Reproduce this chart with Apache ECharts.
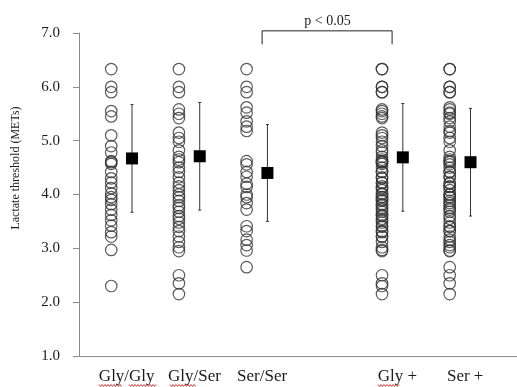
<!DOCTYPE html>
<html>
<head>
<meta charset="utf-8">
<script src="https://cdn.jsdelivr.net/npm/echarts@6/dist/echarts.min.js"></script>
<style>
html,body{margin:0;padding:0;background:#fff;}
#chart{width:517px;height:387px;}
</style>
</head>
<body>
<div id="chart"></div>
<script>
// ---- data ----
const categories = ['Gly/Gly', 'Gly/Ser', 'Ser/Ser', '', 'Gly +', 'Ser +'];
const groupPositions = [0, 1, 2, 4, 5];
const yTicks = [1, 2, 3, 4, 5, 6, 7];

const glyGly = [6.33, 6.0, 5.9, 5.55, 5.45, 5.1, 4.9, 4.78, 4.62, 4.6, 4.57, 4.42, 4.3, 4.22, 4.12, 4.02, 3.95, 3.9, 3.82, 3.72, 3.62, 3.52, 3.42, 3.3, 3.22, 2.97, 2.3];
const glySer = [6.33, 6.0, 5.9, 5.58, 5.5, 5.42, 5.15, 5.05, 4.98, 4.82, 4.7, 4.65, 4.6, 4.5, 4.42, 4.32, 4.22, 4.15, 4.08, 4.0, 3.95, 3.88, 3.8, 3.75, 3.68, 3.6, 3.55, 3.48, 3.4, 3.32, 3.22, 3.12, 3.02, 2.95, 2.5, 2.35, 2.15];
const serSer = [6.33, 6.0, 5.9, 5.62, 5.52, 5.36, 5.26, 5.18, 4.62, 4.56, 4.42, 4.33, 4.2, 4.14, 4.0, 3.95, 3.84, 3.72, 3.41, 3.32, 3.16, 3.06, 2.96, 2.65];
const glyPlus = [6.33, 6.33, 6.0, 6.0, 5.9, 5.9, 5.58, 5.55, 5.5, 5.45, 5.42, 5.15, 5.1, 5.05, 4.98, 4.9, 4.82, 4.78, 4.7, 4.65, 4.62, 4.6, 4.6, 4.57, 4.5, 4.42, 4.42, 4.32, 4.3, 4.22, 4.22, 4.15, 4.12, 4.08, 4.02, 4.0, 3.95, 3.95, 3.9, 3.88, 3.82, 3.8, 3.75, 3.72, 3.68, 3.62, 3.6, 3.55, 3.52, 3.48, 3.42, 3.4, 3.32, 3.3, 3.22, 3.22, 3.12, 3.02, 2.97, 2.95, 2.5, 2.35, 2.3, 2.15];
const serPlus = [6.33, 6.33, 6.0, 6.0, 5.9, 5.9, 5.62, 5.58, 5.52, 5.5, 5.42, 5.36, 5.26, 5.18, 5.15, 5.05, 4.98, 4.82, 4.7, 4.65, 4.62, 4.6, 4.56, 4.5, 4.42, 4.42, 4.33, 4.32, 4.22, 4.2, 4.15, 4.14, 4.08, 4.0, 4.0, 3.95, 3.95, 3.88, 3.84, 3.8, 3.75, 3.72, 3.68, 3.6, 3.55, 3.48, 3.41, 3.4, 3.32, 3.32, 3.22, 3.16, 3.12, 3.06, 3.02, 2.96, 2.95, 2.65, 2.5, 2.35, 2.15];

const groupValues = [glyGly, glySer, serSer, glyPlus, serPlus];
const means = [4.67, 4.71, 4.40, 4.69, 4.60];
const sds = [1.0, 1.0, 0.90, 1.0, 1.0];

// significance bracket (data units): from Ser/Ser to Gly +
const bracketX = [2.0, 3.92];
const bracketY = [6.79, 7.04];
const bracketLabel = 'p < 0.05';
const yAxisTitle = 'Lactate threshold (METs)';

// ---- chart ----
const chart = echarts.init(document.getElementById('chart'), null, {renderer: 'canvas'});
const FONT = '"Liberation Serif", "Times New Roman", serif';
const AXIS_COLOR = '#8c8c8c';
const CIRCLE_OFFSET = -15.5;
const MEAN_OFFSET = 5.3;

const series = [];
groupValues.forEach((vals, gi) => {
  series.push({
    type: 'scatter',
    data: vals.map(v => [groupPositions[gi], v]),
    symbol: 'circle',
    symbolSize: 11.5,
    symbolOffset: [CIRCLE_OFFSET, 0],
    itemStyle: {color: 'rgba(255,255,255,0)', borderColor: '#333', borderWidth: 1.2},
    silent: true,
    z: 2
  });
});

series.push({
  type: 'custom',
  data: groupPositions.map((p, i) => [p, means[i], sds[i]]),
  renderItem: function (params, api) {
    const x = api.value(0), m = api.value(1), s = api.value(2);
    const top = api.coord([x, m + s]);
    const bot = api.coord([x, m - s]);
    const cx = top[0] + MEAN_OFFSET;
    return {
      type: 'group',
      children: [
        {type: 'line', shape: {x1: cx, y1: top[1], x2: cx, y2: bot[1]}, style: {stroke: '#333', lineWidth: 1}},
        {type: 'line', shape: {x1: cx - 1.5, y1: top[1], x2: cx + 1.5, y2: top[1]}, style: {stroke: '#333', lineWidth: 1}},
        {type: 'line', shape: {x1: cx - 1.5, y1: bot[1], x2: cx + 1.5, y2: bot[1]}, style: {stroke: '#333', lineWidth: 1}}
      ]
    };
  },
  silent: true,
  z: 3
});

series.push({
  type: 'scatter',
  data: groupPositions.map((p, i) => [p, means[i]]),
  symbol: 'rect',
  symbolSize: 12,
  symbolOffset: [MEAN_OFFSET, 0],
  itemStyle: {color: '#000', opacity: 1},
  silent: true,
  z: 4
});

series.push({
  type: 'line',
  data: [[bracketX[0], bracketY[0]], [bracketX[0], bracketY[1]], [bracketX[1], bracketY[1]], [bracketX[1], bracketY[0]]],
  symbol: 'none',
  lineStyle: {color: '#222', width: 1},
  clip: false,
  silent: true,
  z: 5
});

// spell-check style red wavy underlines under "Gly" words (decoration)
function squiggle(x1, x2, y) {
  const pts = [];
  let up = true;
  for (let x = x1; x <= x2; x += 1.5) { pts.push([x, up ? y - 1 : y + 1]); up = !up; }
  return {type: 'polyline', shape: {points: pts}, style: {stroke: '#d23b3b', lineWidth: 1, fill: null}, silent: true};
}

chart.setOption({
  animation: false,
  backgroundColor: '#ffffff',
  grid: {left: 79, right: 0, top: 33, bottom: 31, containLabel: false},
  xAxis: {
    type: 'value',
    min: -0.705,
    max: 5.765,
    splitLine: {show: false},
    axisLine: {show: true, onZero: false, lineStyle: {color: AXIS_COLOR, width: 1}},
    axisTick: {show: false},
    axisLabel: {
      customValues: groupPositions,
      formatter: v => categories[Math.round(v)] || '',
      color: '#1a1a1a',
      fontFamily: FONT,
      fontSize: 17,
      margin: 12
    }
  },
  yAxis: {
    type: 'value',
    min: 1,
    max: 7,
    interval: 1,
    splitLine: {show: false},
    axisLine: {show: true, onZero: false, lineStyle: {color: AXIS_COLOR, width: 1}},
    axisTick: {show: true, length: 6, inside: false, lineStyle: {color: AXIS_COLOR}},
    axisLabel: {
      formatter: v => v.toFixed(1),
      color: '#1a1a1a',
      fontFamily: FONT,
      fontSize: 15,
      margin: 19
    }
  },
  graphic: [
    {
      type: 'text',
      x: 16, y: 168,
      rotation: Math.PI / 2,
      style: {text: yAxisTitle, fontFamily: FONT, fontSize: 12, fill: '#1a1a1a', align: 'center', verticalAlign: 'middle'}
    },
    {
      type: 'text',
      x: 327.5, y: 21,
      style: {text: bracketLabel, fontFamily: FONT, fontSize: 14, fill: '#1a1a1a', align: 'center', verticalAlign: 'middle'}
    },
    squiggle(99, 122, 385.5),
    squiggle(129, 156, 385.5),
    squiggle(170, 196, 385.5),
    squiggle(378, 400, 385.5)
  ],
  series: series
});
</script>
</body>
</html>
